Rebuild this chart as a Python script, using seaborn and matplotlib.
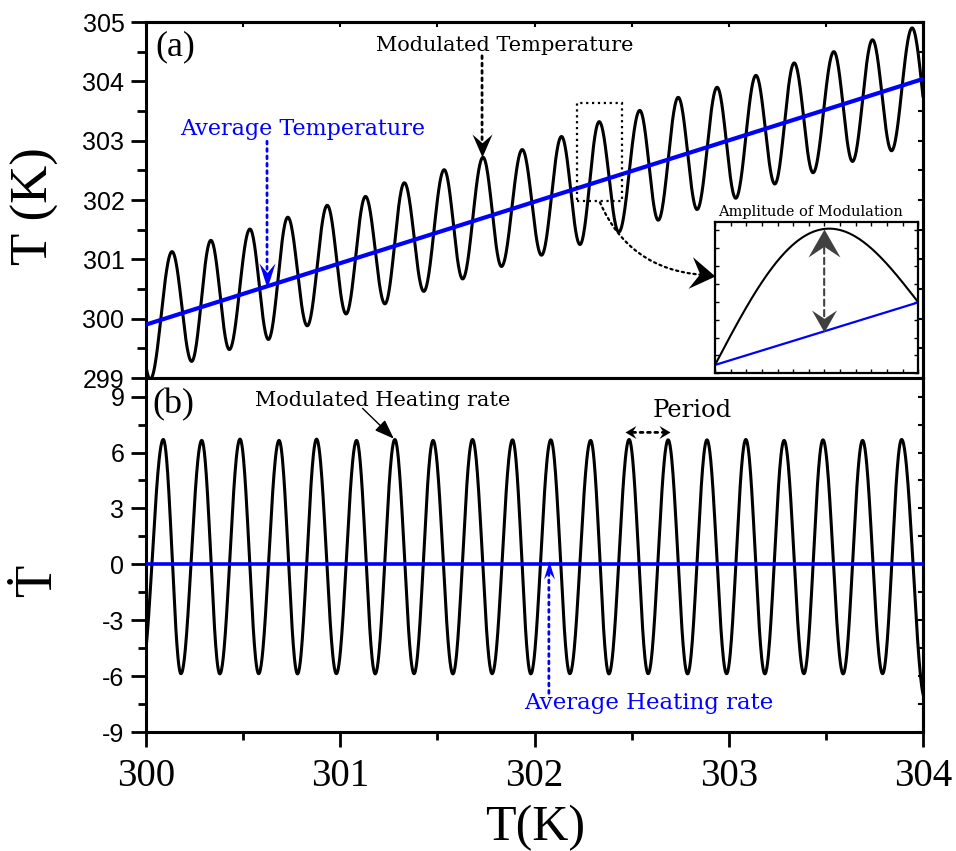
import numpy as np
import pandas as pd
import seaborn as sns
import matplotlib
matplotlib.use("Agg")
import matplotlib.pyplot as plt
from matplotlib.ticker import MultipleLocator
from matplotlib.path import Path
from matplotlib.markers import MarkerStyle
from matplotlib.transforms import Affine2D
from matplotlib.patches import Rectangle

# ---------------- data ----------------
# (a) modulated temperature: peaks and troughs of the oscillation
temp_peak_x = [300.134, 300.334, 300.535, 300.730, 300.933, 301.130, 301.330, 301.535, 301.735, 301.937,
               302.139, 302.333, 302.542, 302.740, 302.940, 303.140, 303.337, 303.541, 303.740, 303.944]
temp_peak_y = [301.13, 301.32, 301.51, 301.71, 301.91, 302.06, 302.29, 302.51, 302.72, 302.85,
               303.07, 303.32, 303.51, 303.73, 303.90, 304.10, 304.31, 304.50, 304.70, 304.90]
temp_trough_x = [300.022, 300.235, 300.429, 300.630, 300.830, 301.030, 301.230, 301.430, 301.630, 301.830,
                 302.036, 302.234, 302.434, 302.637, 302.837, 303.036, 303.237, 303.434, 303.637, 303.838]
temp_trough_y = [298.98, 299.28, 299.48, 299.65, 299.88, 300.08, 300.25, 300.46, 300.67, 300.88,
                 301.07, 301.25, 301.46, 301.66, 301.84, 302.03, 302.27, 302.46, 302.65, 302.83]
# continuation just outside the plotted range
temp_edge_x = [299.920, 304.044]
temp_edge_y = [300.90, 302.95]

# average temperature (linear ramp)
avg_temp_x = [300.0, 304.0]
avg_temp_y = [299.90, 304.04]

# (b) modulated heating rate
rate_peak_x = [300.089, 300.287, 300.484, 300.685, 300.878, 301.084, 301.281, 301.478, 301.681, 301.887,
               302.084, 302.289, 302.487, 302.688, 302.888, 303.088, 303.285, 303.485, 303.689, 303.890]
rate_peak_y = [6.70, 6.65, 6.72, 6.65, 6.72, 6.65, 6.70, 6.65, 6.70, 6.68,
               6.68, 6.65, 6.70, 6.68, 6.68, 6.70, 6.65, 6.68, 6.65, 6.70]
rate_trough_x = [300.180, 300.380, 300.580, 300.780, 300.980, 301.180, 301.380, 301.580, 301.782, 301.981,
                 302.182, 302.383, 302.585, 302.788, 302.989, 303.186, 303.387, 303.589, 303.792]
rate_trough_y = [-5.87, -5.88, -5.87, -5.88, -5.87, -5.88, -5.87, -5.88, -5.87, -5.88,
                 -5.87, -5.88, -5.87, -5.88, -5.87, -5.88, -5.87, -5.88, -5.87]
rate_edge_x = [299.976, 304.010]
rate_edge_y = [-5.90, -7.20]

# average heating rate
avg_rate_x = [300.0, 304.0]
avg_rate_y = [0.0, 0.0]

# inset: one modulation cycle above the mean line (axes-fraction units)
inset_avg_x = [0.0, 1.0]
inset_avg_y = [0.055, 0.468]
inset_amplitude = 0.68

x_ticks = [300, 301, 302, 303, 304]
x_tick_labels = ["300", "301", "302", "303", "304"]
temp_ticks = [299, 300, 301, 302, 303, 304, 305]
rate_ticks = [-9, -6, -3, 0, 3, 6, 9]

BLUE = "#0000FF"
GRAY = "#404040"


def through_extrema(xs, ys, n=48):
    """Smooth half-cosine segments joining successive extrema."""
    xs = np.asarray(xs, float)
    ys = np.asarray(ys, float)
    order = np.argsort(xs)
    xs, ys = xs[order], ys[order]
    s = np.linspace(0.0, 1.0, n, endpoint=False)
    px, py = [], []
    for x0, x1, y0, y1 in zip(xs[:-1], xs[1:], ys[:-1], ys[1:]):
        px.append(x0 + (x1 - x0) * s)
        py.append(y0 + (y1 - y0) * (1 - np.cos(np.pi * s)) / 2)
    px.append([xs[-1]])
    py.append([ys[-1]])
    return np.concatenate(px), np.concatenate(py)


def stealth_head(ax, x, y, angle, length, width, color, transform=None):
    """Filled barbed arrow head with its tip at (x, y); sizes in pixels."""
    L, W = length, width
    verts = np.array([(0, 0), (-L, W / 2), (-0.62 * L, 0), (-L, -W / 2), (0, 0)])
    codes = [Path.MOVETO, Path.LINETO, Path.LINETO, Path.LINETO, Path.CLOSEPOLY]
    m = np.abs(verts).max()
    marker = MarkerStyle(Path(verts, codes), transform=Affine2D().rotate_deg(angle))
    kw = {}
    if transform is not None:
        kw["transform"] = transform
    ax.plot([x], [y], marker=marker, markersize=1.44 * m, color=color,
            markeredgewidth=0, linestyle="none", zorder=8, clip_on=False, **kw)


sns.set_theme(style="ticks")
plt.rcParams["font.family"] = ["DejaVu Serif"]
plt.rcParams["axes.linewidth"] = 2.2
plt.rcParams["axes.edgecolor"] = "black"
plt.rcParams["text.color"] = "black"
plt.rcParams["axes.labelcolor"] = "black"
plt.rcParams["xtick.color"] = "black"
plt.rcParams["ytick.color"] = "black"
plt.rcParams["axes.unicode_minus"] = False

fig = plt.figure(figsize=(9.56, 8.51), dpi=100)
W_PX, H_PX = 956, 851
left, right = 146, 923
ax1 = fig.add_axes([left / W_PX, 1 - 378 / H_PX, (right - left) / W_PX, (378 - 22) / H_PX])
ax2 = fig.add_axes([left / W_PX, 1 - 732 / H_PX, (right - left) / W_PX, (732 - 378) / H_PX])

# ---------- panel (a) ----------
tx, ty = through_extrema(temp_peak_x + temp_trough_x + temp_edge_x,
                         temp_peak_y + temp_trough_y + temp_edge_y)
sns.lineplot(x=tx, y=ty, ax=ax1, color="black", lw=2.2, sort=False, estimator=None, zorder=3)
ax_line = pd.DataFrame({"x": avg_temp_x, "y": avg_temp_y})
sns.lineplot(data=ax_line, x="x", y="y", ax=ax1, color=BLUE, lw=3.0, sort=False,
             estimator=None, zorder=4)

ax1.set_xlim(300, 304)
ax1.set_ylim(299, 305)
ax1.set_xlabel("")
ax1.set_ylabel("")
ax1.set_yticks(temp_ticks)
ax1.yaxis.set_minor_locator(MultipleLocator(0.5))
ax1.tick_params(axis="y", which="major", direction="out", length=10.5, width=2.0,
                labelsize=18, pad=5)
ax1.tick_params(axis="y", which="minor", direction="out", length=6.5, width=2.0)
ax1.tick_params(axis="x", which="both", bottom=False, labelbottom=False)
for lab in ax1.get_yticklabels():
    lab.set_fontfamily("Liberation Sans")

sec = ax1.secondary_yaxis("right")
sec.yaxis.set_major_locator(MultipleLocator(0.5))
sec.tick_params(direction="in", length=3.5, width=1.5, labelright=False)
sec.spines["right"].set_linewidth(2.2)
sec = ax1.secondary_xaxis("top")
sec.xaxis.set_major_locator(MultipleLocator(0.5))
sec.tick_params(direction="in", length=3.5, width=1.5, labeltop=False)
sec.spines["top"].set_linewidth(2.2)

ax1.text(0.0116, 0.9775, "(a)", transform=ax1.transAxes, ha="left", va="top",
         fontsize=26, family="Liberation Serif")

ax1.text(301.848, 304.60, "Modulated Temperature", ha="center", va="center", fontsize=15)
ax1.annotate("", xy=(301.73, 302.98), xytext=(301.73, 304.43),
             arrowprops=dict(arrowstyle="-", linestyle=":", lw=2.0, color="black",
                             shrinkA=0, shrinkB=0))
stealth_head(ax1, 301.73, 302.72, -90, 23, 20, "black")

ax1.text(300.805, 303.19, "Average Temperature", ha="center", va="center",
         fontsize=16, color=BLUE)
ax1.annotate("", xy=(300.623, 300.78), xytext=(300.623, 302.99),
             arrowprops=dict(arrowstyle="-", linestyle=":", lw=2.0, color=BLUE,
                             shrinkA=0, shrinkB=0))
stealth_head(ax1, 300.623, 300.52, -90, 25, 16, BLUE)

ax1.add_patch(Rectangle((302.218, 301.98), 0.23, 1.65, fill=False, linestyle=":",
                        lw=1.6, edgecolor="black", zorder=5))
ax1.annotate("", xy=(302.86, 300.74), xytext=(302.337, 301.96),
             arrowprops=dict(arrowstyle="-", linestyle=":", lw=1.6, color="black",
                             shrinkA=0, shrinkB=0, connectionstyle="arc3,rad=0.3"))
stealth_head(ax1, 302.928, 300.726, -8, 25, 32, "black")

fig.text(810.5 / W_PX, 1 - 212 / H_PX, "Amplitude of Modulation", ha="center",
         va="center", fontsize=10.5)

# inset: amplitude of modulation
ax_in = fig.add_axes([715 / W_PX, 1 - 373.3 / H_PX, 203.3 / W_PX, 151.6 / H_PX])
ix = np.linspace(0, 1, 200)
iline = np.interp(ix, inset_avg_x, inset_avg_y)
sns.lineplot(x=ix, y=iline + inset_amplitude * np.sin(np.pi * ix), ax=ax_in,
             color="black", lw=1.5, sort=False, estimator=None)
sns.lineplot(x=inset_avg_x, y=inset_avg_y, ax=ax_in, color=BLUE, lw=1.6,
             sort=False, estimator=None)
ax_in.set_xlim(0, 1)
ax_in.set_ylim(0, 1)
ax_in.set_xlabel("")
ax_in.set_ylabel("")
ax_in.xaxis.set_major_locator(MultipleLocator(1 / 13))
ax_in.yaxis.set_major_locator(MultipleLocator(0.118))
ax_in.tick_params(which="both", direction="in", top=True, right=True, length=3,
                  width=1.0, labelbottom=False, labelleft=False)
for sp in ax_in.spines.values():
    sp.set_linewidth(1.6)
ax_in.annotate("", xy=(0.537, 0.37), xytext=(0.537, 0.83),
               xycoords="axes fraction",
               arrowprops=dict(arrowstyle="-", linestyle=(0, (3, 2)), lw=1.5,
                               color=GRAY, shrinkA=0, shrinkB=0))
stealth_head(ax_in, 0.537, 0.954, 90, 28, 32, GRAY, transform=ax_in.transAxes)
stealth_head(ax_in, 0.537, 0.272, -90, 22, 25, GRAY, transform=ax_in.transAxes)

# ---------- panel (b) ----------
rx, ry = through_extrema(rate_peak_x + rate_trough_x + rate_edge_x,
                         rate_peak_y + rate_trough_y + rate_edge_y)
sns.lineplot(x=rx, y=ry, ax=ax2, color="black", lw=2.2, sort=False, estimator=None, zorder=3)
sns.lineplot(x=avg_rate_x, y=avg_rate_y, ax=ax2, color=BLUE, lw=2.6, sort=False,
             estimator=None, zorder=4)

ax2.set_xlim(300, 304)
ax2.set_ylim(-9, 10)
ax2.set_xlabel("")
ax2.set_ylabel("")
ax2.set_yticks(rate_ticks)
ax2.yaxis.set_minor_locator(MultipleLocator(1.5))
ax2.set_xticks(x_ticks)
ax2.set_xticklabels(x_tick_labels, fontfamily="Liberation Serif", fontsize=28)
ax2.xaxis.set_minor_locator(MultipleLocator(0.5))
ax2.tick_params(axis="both", which="major", direction="out", length=10.5, width=2.0)
ax2.tick_params(axis="both", which="minor", direction="out", length=6.0, width=2.0)
ax2.tick_params(axis="x", which="major", pad=8)
ax2.tick_params(axis="y", which="major", labelsize=18, pad=5)
for lab in ax2.get_yticklabels():
    lab.set_fontfamily("Liberation Sans")

sec = ax2.secondary_yaxis("right")
sec.yaxis.set_major_locator(MultipleLocator(1.5))
sec.tick_params(direction="in", length=3.5, width=1.5, labelright=False)
sec.spines["right"].set_linewidth(2.2)

ax2.text(0.0077, 0.9718, "(b)", transform=ax2.transAxes, ha="left", va="top",
         fontsize=26, family="Liberation Serif")

ax2.text(301.22, 8.79, "Modulated Heating rate", ha="center", va="center", fontsize=15)
ax2.annotate("", xy=(301.276, 6.74), xytext=(301.115, 8.37),
             arrowprops=dict(arrowstyle="-|>,head_length=0.6,head_width=0.22", lw=1.0,
                             color="black", shrinkA=0, shrinkB=0, mutation_scale=20))

ax2.text(302.813, 8.25, "Period", ha="center", va="center", fontsize=17.5)
ax2.annotate("", xy=(302.49, 7.08), xytext=(302.672, 7.08),
             arrowprops=dict(arrowstyle="-", linestyle=":", lw=2.0, color="black",
                             shrinkA=0, shrinkB=0))
stealth_head(ax2, 302.465, 7.08, 180, 11, 13, "black")
stealth_head(ax2, 302.697, 7.08, 0, 11, 13, "black")

ax2.text(302.589, -7.45, "Average Heating rate", ha="center", va="center",
         fontsize=16.5, color=BLUE)
ax2.annotate("", xy=(302.074, -0.43), xytext=(302.074, -6.92),
             arrowprops=dict(arrowstyle="-", linestyle=":", lw=2.0, color=BLUE,
                             shrinkA=0, shrinkB=0))
stealth_head(ax2, 302.074, 0.16, 90, 18, 11, BLUE)

# axis titles
fig.text(35 / W_PX, 1 - 206 / H_PX, "T (K)", rotation=90, ha="center", va="center",
         fontsize=38, family="Liberation Serif")
fig.text(38 / W_PX, 1 - 581 / H_PX, "Ṫ", rotation=90, ha="center", va="center",
         fontsize=38, family=["Liberation Serif", "DejaVu Serif"])
fig.text(535 / W_PX, 1 - 828 / H_PX, "T(K)", ha="center", va="center",
         fontsize=36, family="Liberation Serif")

fig.savefig("out.png", dpi=100, facecolor="white")
